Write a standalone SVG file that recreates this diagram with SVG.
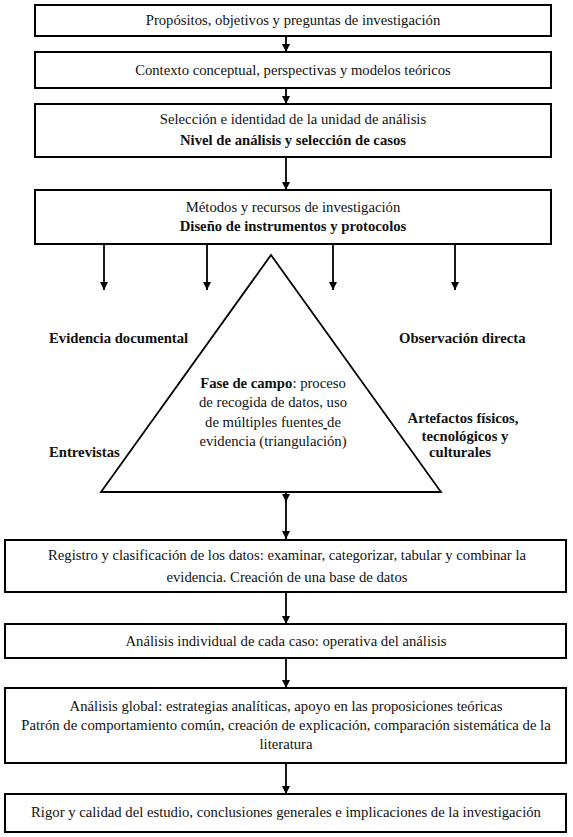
<svg xmlns="http://www.w3.org/2000/svg" width="573" height="837" viewBox="0 0 573 837">
<defs>
<style>
.box{fill:#fff;stroke:#000;stroke-width:2}
.tri{fill:#fff;stroke:#000;stroke-width:1.8}
.t{font-family:"Liberation Serif","Times New Roman","DejaVu Serif",serif;font-size:14.7px;fill:#111;text-anchor:middle}
.b{font-weight:bold}
.l{font-family:"Liberation Serif","Times New Roman","DejaVu Serif",serif;font-size:14.7px;fill:#111;font-weight:bold}
.c{stroke:#000;stroke-width:1.8;fill:none}
</style>
<marker id="ah" viewBox="0 0 10 10" refX="10" refY="5" markerWidth="8" markerHeight="8" markerUnits="userSpaceOnUse" orient="auto">
<path d="M0,0 L10,5 L0,10 z" fill="#000"/>
</marker>
</defs>
<rect width="573" height="837" fill="#fff"/>

<g id="connectors">
<line class="c" x1="286" y1="36" x2="286" y2="52" marker-end="url(#ah)"/>
<line class="c" x1="286" y1="88" x2="286" y2="104" marker-end="url(#ah)"/>
<line class="c" x1="286" y1="157" x2="286" y2="190" marker-end="url(#ah)"/>
<line class="c" x1="104" y1="244" x2="104" y2="290" marker-end="url(#ah)"/>
<line class="c" x1="207" y1="244" x2="207" y2="290" marker-end="url(#ah)"/>
<line class="c" x1="333" y1="244" x2="333" y2="290" marker-end="url(#ah)"/>
<line class="c" x1="455" y1="244" x2="455" y2="290" marker-end="url(#ah)"/>
<line class="c" x1="286" y1="492" x2="286" y2="502" marker-end="url(#ah)"/>
<line class="c" x1="286" y1="500" x2="286" y2="539" marker-end="url(#ah)"/>
<line class="c" x1="286" y1="592" x2="286" y2="624" marker-end="url(#ah)"/>
<line class="c" x1="286" y1="658" x2="286" y2="688" marker-end="url(#ah)"/>
<line class="c" x1="286" y1="763" x2="286" y2="794" marker-end="url(#ah)"/>
</g>

<g id="n1">
<rect class="box" x="35" y="5" width="516" height="31"/>
<text class="t" x="293" y="25">Propósitos, objetivos y preguntas de investigación</text>
</g>
<g id="n2">
<rect class="box" x="35" y="52" width="516" height="36"/>
<text class="t" x="293" y="75">Contexto conceptual, perspectivas y modelos teóricos</text>
</g>
<g id="n3">
<rect class="box" x="35" y="104" width="516" height="53"/>
<text class="t" x="293" y="124">Selección e identidad de la unidad de análisis</text>
<text class="t b" x="293" y="145">Nivel de análisis y selección de casos</text>
</g>
<g id="n4">
<rect class="box" x="35" y="190" width="516" height="54"/>
<text class="t" x="293" y="212">Métodos y recursos de investigación</text>
<text class="t b" x="293" y="231">Diseño de instrumentos y protocolos</text>
</g>

<g id="triangle">
<polygon class="tri" points="271,255 441,492 101,492"/>
<text class="t" x="273" y="388"><tspan class="b">Fase de campo</tspan>: proceso</text>
<text class="t" x="273" y="407">de recogida de datos, uso</text>
<text class="t" x="273" y="427">de múltiples fuentes<tspan text-decoration="underline"> </tspan>de</text>
<text class="t" x="273" y="446">evidencia (triangulación)</text>
</g>

<g id="lbl-doc"><text class="l" x="49" y="343">Evidencia documental</text></g>
<g id="lbl-obs"><text class="l" x="399" y="343">Observación directa</text></g>
<g id="lbl-ent"><text class="l" x="49" y="457">Entrevistas</text></g>
<g id="lbl-art">
<text class="t b" x="463" y="423">Artefactos físicos,</text>
<text class="t b" x="465" y="441">tecnológicos y</text>
<text class="t b" x="460" y="457">culturales</text>
</g>

<g id="n5">
<rect class="box" x="5" y="540" width="561" height="52"/>
<text class="t" x="287" y="560">Registro y clasificación de los datos: examinar, categorizar, tabular y combinar la</text>
<text class="t" x="287" y="582">evidencia. Creación de una base de datos</text>
</g>
<g id="n6">
<rect class="box" x="5" y="624" width="561" height="34"/>
<text class="t" x="286" y="646">Análisis individual de cada caso: operativa del análisis</text>
</g>
<g id="n7">
<rect class="box" x="5" y="688" width="561" height="75"/>
<text class="t" x="286" y="711">Análisis global: estrategias analíticas, apoyo en las proposiciones teóricas</text>
<text class="t" x="286" y="730">Patrón de comportamiento común, creación de explicación, comparación sistemática de la</text>
<text class="t" x="286" y="749">literatura</text>
</g>
<g id="n8">
<rect class="box" x="5" y="794" width="561" height="38"/>
<text class="t" x="286" y="817">Rigor y calidad del estudio, conclusiones generales e implicaciones de la investigación</text>
</g>
</svg>
